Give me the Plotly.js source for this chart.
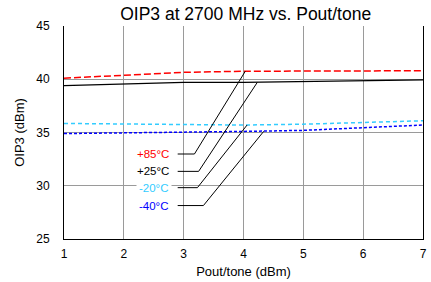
<!DOCTYPE html>
<html><head><meta charset="utf-8">
<script src="https://cdn.plot.ly/plotly-3.0.1.min.js"></script>
<style>html,body{margin:0;padding:0;background:#fff}#c{width:431px;height:282px}</style>
</head><body><div id="c"></div>
<script>
const pout = [1, 2, 3, 4, 5, 6, 7];
const oip3_p85 = [40.1, 40.4, 40.65, 40.75, 40.75, 40.78, 40.8];
const oip3_p25 = [39.4, 39.55, 39.7, 39.7, 39.78, 39.85, 39.95];
const oip3_m20 = [35.85, 35.8, 35.75, 35.7, 35.78, 35.95, 36.1];
const oip3_m40 = [34.9, 34.95, 35.0, 35.1, 35.2, 35.45, 35.7];
const labels = ["+85°C", "+25°C", "-20°C", "-40°C"];
const labelY = [32.98, 31.35, 29.82, 28.14];
const elbowX = [3.18, 3.25, 3.23, 3.33];
const targetX = [4.03, 4.23, 4.06, 4.34];
const targetY = [40.75, 39.7, 35.7, 35.12];
const colors = ["#ff0000", "#000000", "#33ccff", "#0000ff"];

const font = "Liberation Sans, Arial, sans-serif";
const traces = [
  {x: pout, y: oip3_p85, mode: "lines", line: {color: colors[0], width: 1.5, dash: "7px,3px"}},
  {x: pout, y: oip3_p25, mode: "lines", line: {color: colors[1], width: 1.3}},
  {x: pout, y: oip3_m20, mode: "lines", line: {color: colors[2], width: 1.5, dash: "4px,3px"}},
  {x: pout, y: oip3_m40, mode: "lines", line: {color: colors[3], width: 1.5, dash: "3px,2px"}}
];
const shapes = [];
const annotations = [];
for (let i = 0; i < labels.length; i++) {
  shapes.push({type: "line", xref: "x", yref: "y", x0: 2.9, y0: labelY[i], x1: elbowX[i], y1: labelY[i], line: {color: "#000", width: 1}});
  shapes.push({type: "line", xref: "x", yref: "y", x0: elbowX[i], y0: labelY[i], x1: targetX[i], y1: targetY[i], line: {color: "#000", width: 1}});
  annotations.push({x: 2.8, y: labelY[i], xref: "x", yref: "y", text: labels[i], showarrow: false, xanchor: "right", yanchor: "middle",
    font: {family: font, size: 11.5, color: colors[i]}, bgcolor: "#fff", borderpad: 2});
}
const layout = {
  width: 431, height: 282,
  margin: {l: 64, r: 8, t: 26, b: 42.5},
  paper_bgcolor: "#fff", plot_bgcolor: "#fff",
  showlegend: false,
  title: {text: "OIP3 at 2700 MHz vs. Pout/tone", font: {family: font, size: 17.5, color: "#000"}, x: 0.57, xanchor: "center", y: 0.95, yanchor: "middle"},
  xaxis: {range: [1, 7], dtick: 1, tick0: 1, showgrid: true, gridcolor: "#9a9a9a", gridwidth: 1, zeroline: false,
    showline: true, linecolor: "#000", linewidth: 1, ticks: "", ticklabelstandoff: 4,
    tickfont: {family: font, size: 12, color: "#000"},
    title: {text: "Pout/tone (dBm)", font: {family: font, size: 13, color: "#000"}, standoff: 6}},
  yaxis: {range: [25, 45], dtick: 5, showgrid: true, gridcolor: "#9a9a9a", gridwidth: 1, zeroline: false,
    showline: true, mirror: true, linecolor: "#000", linewidth: 1, ticks: "", ticklabelstandoff: 11,
    tickfont: {family: font, size: 12, color: "#000"},
    title: {text: "OIP3 (dBm)", font: {family: font, size: 13, color: "#000"}, standoff: 8}},
  shapes: shapes,
  annotations: annotations
};
Plotly.newPlot("c", traces, layout, {displayModeBar: false, staticPlot: true});
</script></body></html>
